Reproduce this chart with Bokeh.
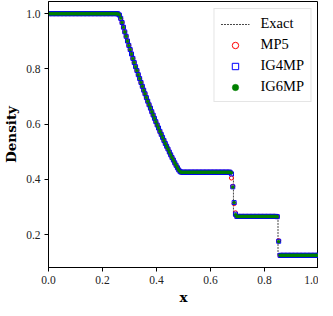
import numpy as np
from bokeh.plotting import figure
from bokeh.models import Range1d, FixedTicker, PrintfTickFormatter, Legend, LegendItem
from bokeh.embed import file_html
from bokeh.resources import INLINE

# ---- data ----
x_exact = [0.0, 0.263, 0.28, 0.30, 0.32, 0.34, 0.36, 0.38, 0.40, 0.42, 0.44, 0.46,
           0.48, 0.486, 0.685, 0.685, 0.850, 0.850, 1.0]
rho_exact = [1.0, 1.0, 0.943, 0.878, 0.816, 0.758, 0.703, 0.651, 0.603, 0.557, 0.515,
             0.475, 0.437, 0.426, 0.426, 0.266, 0.266, 0.125, 0.125]

n_cells = 200
x_cells = (np.arange(n_cells) + 0.5) / n_cells

rarefaction = [0.968, 0.951, 0.934, 0.918, 0.901, 0.885, 0.870, 0.854, 0.838, 0.823,
               0.808, 0.794, 0.779, 0.765, 0.751, 0.737, 0.723, 0.710, 0.696, 0.683,
               0.670, 0.658, 0.645, 0.633, 0.621, 0.609, 0.597, 0.586, 0.574, 0.563,
               0.552, 0.541, 0.530, 0.520, 0.510, 0.499, 0.489, 0.479, 0.470, 0.460,
               0.451, 0.442]

rho_mp5 = ([1.0] * 51 + [0.999, 0.994, 0.982] + rarefaction + [0.435, 0.429] + [0.426] * 37
           + [0.405, 0.375, 0.312, 0.279] + [0.266] * 30 + [0.265, 0.178] + [0.125] * 29)
rho_ig4mp = ([1.0] * 51 + [0.999, 0.995, 0.983] + rarefaction + [0.434, 0.428] + [0.426] * 37
             + [0.420, 0.373, 0.316, 0.274] + [0.266] * 30 + [0.265, 0.176] + [0.125] * 29)
rho_ig6mp = ([1.0] * 51 + [0.999, 0.996, 0.984] + rarefaction + [0.434, 0.428] + [0.426] * 37
             + [0.424, 0.372, 0.316, 0.273] + [0.266] * 30 + [0.265, 0.175] + [0.125] * 29)

x_ticks = [0.0, 0.2, 0.4, 0.6, 0.8, 1.0]
y_ticks = [0.2, 0.4, 0.6, 0.8, 1.0]

# ---- figure ----
p = figure(frame_width=270, frame_height=266, output_backend="svg", toolbar_location=None,
           x_range=Range1d(0.0, 1.0), y_range=Range1d(0.081, 1.044),
           min_border_left=38, min_border_right=0, min_border_top=1, min_border_bottom=20)

p.xgrid.visible = False
p.ygrid.visible = False
p.outline_line_color = "black"
p.outline_line_width = 1
p.background_fill_color = "white"
p.border_fill_color = "white"

r_exact = p.line(x_exact, rho_exact, line_color="#333333", line_width=0.9, line_dash="2 1")
r_mp5 = p.scatter(x_cells, rho_mp5, marker="circle", size=4, fill_color=None,
                  line_color="red", line_width=1)
r_ig4 = p.scatter(x_cells, rho_ig4mp, marker="square", size=4, fill_color=None,
                  line_color="blue", line_width=1)
r_ig6 = p.scatter(x_cells, rho_ig6mp, marker="circle", size=3, fill_color="green",
                  line_color="green", line_width=0.5)

for ax, ticks in ((p.xaxis[0], x_ticks), (p.yaxis[0], y_ticks)):
    ax.ticker = FixedTicker(ticks=ticks)
    ax.formatter = PrintfTickFormatter(format="%.1f")
    ax.major_tick_out = 4
    ax.major_tick_in = 0
    ax.minor_tick_out = 0
    ax.minor_tick_in = 0
    ax.axis_line_color = "black"
    ax.major_tick_line_color = "black"
    ax.major_label_text_font = "Liberation Serif"
    ax.major_label_text_font_size = "11.5px"
    ax.major_label_text_color = "#222222"
    ax.axis_label_text_font = "DejaVu Serif"
    ax.axis_label_text_font_style = "bold"
    ax.axis_label_text_font_size = "13.5px"
    ax.axis_label_text_color = "black"

p.xaxis.axis_label = "x"
p.yaxis.axis_label = "Density"
p.xaxis.major_label_standoff = 4
p.yaxis.major_label_standoff = 4
p.xaxis.axis_label_standoff = 2
p.yaxis.axis_label_standoff = 4

legend = Legend(items=[LegendItem(label="Exact", renderers=[r_exact]),
                       LegendItem(label="MP5", renderers=[r_mp5]),
                       LegendItem(label="IG4MP", renderers=[r_ig4]),
                       LegendItem(label="IG6MP", renderers=[r_ig6])],
                location="top_right")
legend.margin = 7
legend.padding = 6
legend.spacing = 4
legend.glyph_width = 29
legend.glyph_height = 16
legend.label_height = 16
legend.label_standoff = 11
legend.label_text_font = "Liberation Serif"
legend.label_text_font_size = "14.5px"
legend.label_text_color = "black"
legend.border_line_color = "#cccccc"
legend.border_line_width = 1
legend.background_fill_alpha = 0.8
p.add_layout(legend)

open("out.html", "w").write(file_html(p, INLINE))
